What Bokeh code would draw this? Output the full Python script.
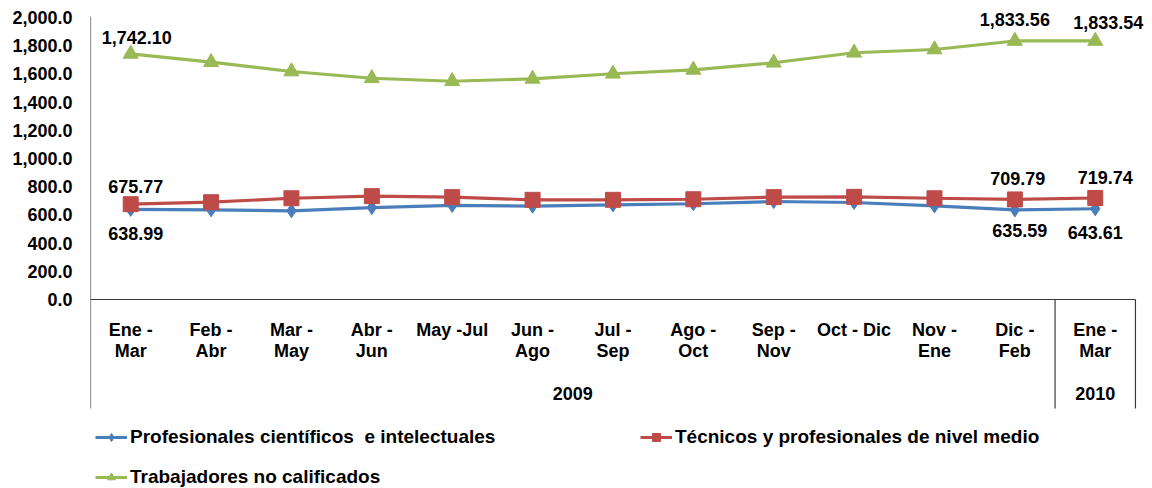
from bokeh.plotting import figure
from bokeh.models import (Range1d, LinearAxis, FixedTicker, NumeralTickFormatter,
                          Legend, LegendItem, LabelSet, ColumnDataSource)
from bokeh.core.properties import value
from bokeh.embed import file_html
from bokeh.resources import INLINE

# ---------------- data ----------------
categories = ["Ene -\nMar", "Feb -\nAbr", "Mar -\nMay", "Abr -\nJun", "May -Jul",
              "Jun -\nAgo", "Jul -\nSep", "Ago -\nOct", "Sep -\nNov", "Oct - Dic",
              "Nov -\nEne", "Dic -\nFeb", "Ene -\nMar"]
years = ["2009", "2010"]
year_spans = [(0, 11), (12, 12)]   # first and last category index of each year

profesionales = [638.99, 636, 629, 652, 667, 662, 671, 679, 695, 688, 664, 635.59, 643.61]
tecnicos = [675.77, 690, 718, 733, 726, 707, 707, 711, 726, 728, 718, 709.79, 719.74]
trabajadores = [1742.10, 1683, 1617, 1569, 1548, 1565, 1601, 1629, 1679, 1750, 1773, 1833.56, 1833.54]

series_names = ["Profesionales científicos  e intelectuales",
                "Técnicos y profesionales de nivel medio",
                "Trabajadores no calificados"]
y_ticks = [0, 200, 400, 600, 800, 1000, 1200, 1400, 1600, 1800, 2000]
labelled_idx = [0, 11, 12]

# ---------------- layout / style ----------------
W, H = 1152, 488
PX_LEFT = 90             # px of the left edge of the first category
CAT_W = 80.38            # px per category
PX_ZERO = 299            # px of value 0
PX_TOP_TICK = 17         # px of the top tick value
PX_SEP_END = 408         # px where the vertical separators end
PX_CAT_TOP = 319         # px of the top of the category labels
PX_YEAR = 393            # px of the centre of the year labels

FONT = "Liberation Sans"
FS = "18px"
LEG_FS = "19px"
LINE_COL = "#3a3a3a"
colors = ["#4A7EBB", "#BE4B48", "#98B954"]
markers = ["diamond", "square", "triangle"]
msizes = [14, 15, 15]
# label offsets (dx, dy in px, dy positive = up) for the labelled points
label_offsets = [
    [(5, -24), (5, -21), (0, -24)],
    [(5, 18), (3, 21), (10, 21)],
    [(6, 16), (0, 21), (13, 18)],
]

n = len(categories)
xs = list(range(n))

ppv = (PX_ZERO - PX_TOP_TICK) / y_ticks[-1]      # px per value unit
def val_at(px):
    return (PX_ZERO - px) / ppv

x_start = -0.5
x_end = x_start + (W - PX_LEFT) / CAT_W

p = figure(width=W, height=H,
           x_range=Range1d(x_start, x_end), y_range=Range1d(val_at(H), val_at(0)),
           x_axis_type=None, y_axis_type=None,
           output_backend="svg", toolbar_location=None,
           min_border_left=PX_LEFT, min_border_right=0, min_border_top=0,
           min_border_bottom=0)
p.outline_line_color = None
p.background_fill_color = "white"
p.border_fill_color = "white"

# value axis (labels only; its line is drawn as a segment below)
yax = LinearAxis(ticker=FixedTicker(ticks=y_ticks),
                 formatter=NumeralTickFormatter(format="0,0.0"))
yax.axis_line_color = None
yax.major_tick_line_color = None
yax.minor_tick_line_color = None
yax.major_tick_in = 0
yax.major_tick_out = 0
yax.minor_tick_out = 0
yax.minor_tick_in = 0
yax.major_label_standoff = 18
yax.major_label_text_font = FONT
yax.major_label_text_font_size = FS
yax.major_label_text_font_style = "bold"
yax.major_label_text_color = "black"
p.add_layout(yax, "left")

# axis lines and group separators
left_x = -0.5
right_x = n - 0.5
seps = [e + 0.5 for (_, e) in year_spans]
seg_x0 = [left_x, left_x] + seps
seg_x1 = [left_x, right_x] + seps
seg_y0 = [val_at(PX_TOP_TICK - 1), 0] + [0] * len(seps)
seg_y1 = [val_at(PX_SEP_END), 0] + [val_at(PX_SEP_END)] * len(seps)
p.segment(seg_x0, seg_y0, seg_x1, seg_y1, line_color=LINE_COL, line_width=1.2)

# category labels
p.text(xs, [val_at(PX_CAT_TOP)] * n, text=categories,
       text_align="center", text_baseline="top", text_line_height=1.08,
       text_font=value(FONT), text_font_size=value(FS),
       text_font_style="bold", text_color="black")
# year labels
year_pos = [(s + e) / 2 for (s, e) in year_spans]
p.text(year_pos, [val_at(PX_YEAR)] * len(years), text=years,
       text_align="center", text_baseline="middle",
       text_font=value(FONT), text_font_size=value(FS),
       text_font_style="bold", text_color="black")

all_series = [profesionales, tecnicos, trabajadores]
items = []
for k, vals in enumerate(all_series):
    ln = p.line(xs, vals, line_color=colors[k], line_width=3.2)
    sc = p.scatter(xs, vals, marker=markers[k], size=msizes[k],
                   fill_color=colors[k], line_color=colors[k])
    items.append(LegendItem(label=series_names[k], renderers=[ln, sc]))
    src = ColumnDataSource(dict(
        x=[xs[i] for i in labelled_idx],
        y=[vals[i] for i in labelled_idx],
        t=[f"{vals[i]:,.2f}" for i in labelled_idx],
        dx=[o[0] for o in label_offsets[k]],
        dy=[o[1] for o in label_offsets[k]],
    ))
    p.add_layout(LabelSet(x="x", y="y", text="t", source=src,
                          x_offset="dx", y_offset="dy",
                          text_align="center", text_baseline="middle",
                          text_font=value(FONT), text_font_size=value(FS),
                          text_font_style="bold", text_color="black"))

legend = Legend(items=items, location=(5, 0), orientation="horizontal", ncols=2,
                glyph_width=32, glyph_height=20, label_height=20, label_standoff=3,
                label_width=492, spacing=18, padding=0, margin=0,
                label_text_font=FONT, label_text_font_size=LEG_FS,
                label_text_font_style="bold", label_text_color="black",
                background_fill_alpha=0, border_line_color=None)
p.add_layout(legend, "center")

open("out.html", "w").write(file_html(p, INLINE))
